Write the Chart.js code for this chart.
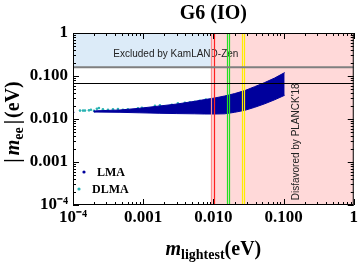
<!DOCTYPE html>
<html><head><meta charset="utf-8">
<script src="https://cdn.jsdelivr.net/npm/chart.js@4.4.1/dist/chart.umd.min.js"></script>
<style>html,body{margin:0;padding:0;background:#fff}canvas{display:block}</style>
</head><body>
<canvas id="c" width="360" height="263"></canvas>
<script>
// ---- data ----
const xTickValues = [1e-4, 1e-3, 1e-2, 1e-1, 1];
const xTickLabels = ['10\u207B\u2074', '0.001', '0.010', '0.100', '1'];
const yTickValues = [1e-4, 1e-3, 1e-2, 1e-1, 1];
const yTickLabels = ['10\u207B\u2074', '0.001', '0.010', '0.100', '1'];

const bandMass = [2.12e-4, 4.67e-4, 8.98e-4, 1.73e-3, 3.02e-3, 5.43e-3, 7.55e-3, 0.01047, 0.01453, 0.0201, 0.0280, 0.0388, 0.0538, 0.0747, 0.1037];
const lmaUpper = [0.0155, 0.0162, 0.0178, 0.0201, 0.0223, 0.0258, 0.0283, 0.0308, 0.0343, 0.0390, 0.0457, 0.0566, 0.0703, 0.0898, 0.120];
const lmaLower = [0.0145, 0.0143, 0.01393, 0.01358, 0.01336, 0.0132, 0.01306, 0.01306, 0.0132, 0.01432, 0.0159, 0.0187, 0.02256, 0.0280, 0.0356];

const lmaDotMass = [1.0e-4, 2.05e-4];
const lmaDotMee = [0.0143, 0.0150];

const dlmaMass = [1.26e-4, 1.39e-4, 1.48e-4, 1.69e-4, 1.80e-4, 1.99e-4, 2.19e-4, 2.34e-4, 2.67e-4, 3.15e-4, 3.71e-4, 4.37e-4, 5.14e-4, 6.05e-4, 8.41e-4, 9.58e-4, 1.06e-3, 1.47e-3, 1.73e-3, 2.56e-3, 3.12e-3, 3.92e-3, 4.61e-3, 5.43e-3, 6.41e-3, 7.80e-3];
const dlmaMee = [0.01567, 0.01567, 0.01567, 0.0159, 0.01637, 0.01552, 0.01726, 0.01803, 0.01682, 0.01637, 0.01682, 0.0170, 0.01637, 0.01682, 0.01774, 0.0182, 0.01726, 0.0203, 0.0208, 0.0214, 0.0232, 0.0238, 0.0245, 0.0251, 0.0265, 0.0283];

const kamlandLimit = 0.159;
const refLimit = 0.0703;
const planckStart = 0.00921;
const verticalLines = [0.00921, 0.01027, 0.0154, 0.01645, 0.02547, 0.02745];
const legendLabels = ['LMA', 'DLMA'];
const kamlandText = 'Excluded by KamLAND-Zen';
const planckText = "Disfavored by PLANCK'18";
const titleText = 'G6 (IO)';

// ---- styles ----
const LMA_COLOR = '#00009c';
const DLMA_COLOR = '#2bb3b3';
const vlineColors = ['#ff8c8c', '#ff2020', '#22e022', '#22e022', '#ffee00', '#ffee00'];
const SERIF = '"Liberation Serif", "Times New Roman", serif';
const SANS = '"Liberation Sans", Arial, sans-serif';

const toPts = (xs, ys) => xs.map((v, i) => ({x: v, y: ys[i]}));

const deco = {
  id: 'deco',
  beforeDatasetsDraw(chart) {
    const {ctx, chartArea: a, scales: {x, y}} = chart;
    ctx.save();
    ctx.beginPath(); ctx.rect(a.left, a.top, a.right - a.left, a.bottom - a.top); ctx.clip();
    const px = x.getPixelForValue(planckStart);
    const ky = y.getPixelForValue(kamlandLimit);
    ctx.fillStyle = '#dcebf8';
    ctx.fillRect(a.left, a.top, px - a.left, ky - a.top);
    ctx.fillStyle = '#ffd9d9';
    ctx.fillRect(px, a.top, a.right - px, a.bottom - a.top);
    ctx.fillStyle = '#222';
    ctx.font = '10px ' + SANS;
    ctx.textAlign = 'center'; ctx.textBaseline = 'middle';
    ctx.fillText(kamlandText, x.getPixelForValue(2.92e-3), y.getPixelForValue(0.32));
    ctx.save();
    ctx.translate(x.getPixelForValue(0.150), y.getPixelForValue(0.00295));
    ctx.rotate(-Math.PI / 2);
    ctx.fillText(planckText, 0, 0);
    ctx.restore();
    ctx.restore();
  },
  afterDatasetsDraw(chart) {
    const {ctx, chartArea: a, scales: {x, y}} = chart;
    ctx.save();
    ctx.beginPath(); ctx.rect(a.left, a.top, a.right - a.left, a.bottom - a.top); ctx.clip();
    verticalLines.forEach((v, i) => {
      const p = Math.round(x.getPixelForValue(v)) + 0.5;
      ctx.strokeStyle = vlineColors[i]; ctx.lineWidth = 1.2;
      ctx.beginPath(); ctx.moveTo(p, a.top); ctx.lineTo(p, a.bottom); ctx.stroke();
    });
    let gy = y.getPixelForValue(kamlandLimit);
    ctx.strokeStyle = '#7f7f7f'; ctx.lineWidth = 2;
    ctx.beginPath(); ctx.moveTo(a.left, gy); ctx.lineTo(a.right, gy); ctx.stroke();
    let by = Math.round(y.getPixelForValue(refLimit)) + 0.5;
    ctx.strokeStyle = '#000'; ctx.lineWidth = 1;
    ctx.beginPath(); ctx.moveTo(a.left, by); ctx.lineTo(a.right, by); ctx.stroke();
    ctx.restore();
  },
  afterDraw(chart) {
    const {ctx, chartArea: a, scales: {x, y}} = chart;
    ctx.save();
    ctx.strokeStyle = '#000'; ctx.lineWidth = 1;
    ctx.strokeRect(a.left + 0.5, a.top + 0.5, a.right - a.left - 1, a.bottom - a.top - 1);
    const majL = 6, minL = 3;
    for (let e = -4; e <= 0; e++) {
      for (let k = 1; k <= 9; k++) {
        const v = k * Math.pow(10, e);
        if (v > 1.0001) break;
        const L = k === 1 ? majL : minL;
        const px = Math.round(x.getPixelForValue(v)) + 0.5;
        const py = Math.round(y.getPixelForValue(v)) + 0.5;
        ctx.beginPath();
        ctx.moveTo(px, a.bottom); ctx.lineTo(px, a.bottom - L);
        ctx.moveTo(px, a.top); ctx.lineTo(px, a.top + L);
        ctx.moveTo(a.left, py); ctx.lineTo(a.left + L, py);
        ctx.moveTo(a.right, py); ctx.lineTo(a.right - L, py);
        ctx.stroke();
      }
    }
    ctx.fillStyle = '#000';
    ctx.font = 'bold 20px ' + SERIF;
    ctx.textAlign = 'center'; ctx.textBaseline = 'middle';
    ctx.fillText(titleText, (a.left + a.right) / 2, 14);
    const drawPieces = (pieces, cx, baseY) => {
      let total = 0;
      pieces.forEach(p => { ctx.font = p.f; p.w = ctx.measureText(p.t).width + (p.gap || 0); total += p.w; });
      let cur = cx - total / 2;
      ctx.textAlign = 'left'; ctx.textBaseline = 'alphabetic';
      pieces.forEach(p => { ctx.font = p.f; ctx.fillText(p.t, cur, baseY + (p.dy || 0)); cur += p.w; });
    };
    const big = 'bold 20px ' + SERIF, bigI = 'italic bold 20px ' + SERIF, sub = 'bold 14px ' + SERIF;
    drawPieces([
      {t: 'm', f: bigI},
      {t: 'lightest', f: sub, dy: 4},
      {t: '(eV)', f: big}
    ], (a.left + a.right) / 2, 255);
    ctx.save();
    ctx.translate(19, (a.top + a.bottom) / 2 + 3);
    ctx.rotate(-Math.PI / 2);
    drawPieces([
      {t: '|', f: big, gap: 3},
      {t: 'm', f: bigI},
      {t: 'ee', f: sub, dy: 4, gap: 3},
      {t: '|', f: big, gap: 2},
      {t: '(eV)', f: big}
    ], 0, 0);
    ctx.restore();
    const lx = [84, 79], ly = [172, 189], tx = [97, 92];
    const cols = [LMA_COLOR, DLMA_COLOR];
    ctx.font = 'bold 12px ' + SERIF; ctx.textAlign = 'left'; ctx.textBaseline = 'middle';
    legendLabels.forEach((lab, i) => {
      ctx.fillStyle = cols[i];
      ctx.beginPath(); ctx.arc(lx[i], ly[i], 1.6, 0, Math.PI * 2); ctx.fill();
      ctx.fillStyle = '#000';
      ctx.fillText(lab, tx[i], ly[i] + 1);
    });
    ctx.restore();
  }
};

new Chart(document.getElementById('c'), {
  type: 'scatter',
  data: {
    datasets: [
      {label: 'LMA upper', data: toPts(bandMass, lmaUpper), showLine: true, pointRadius: 0, borderColor: LMA_COLOR, backgroundColor: LMA_COLOR, borderWidth: 1, fill: '+1', tension: 0},
      {label: 'LMA lower', data: toPts(bandMass, lmaLower), showLine: true, pointRadius: 0, borderColor: LMA_COLOR, borderWidth: 1, fill: false, tension: 0},
      {label: 'LMA', data: toPts(lmaDotMass, lmaDotMee), pointRadius: 1.3, pointBorderWidth: 0, backgroundColor: LMA_COLOR},
      {label: 'DLMA', data: toPts(dlmaMass, dlmaMee), pointRadius: 1.3, pointBorderWidth: 0, backgroundColor: DLMA_COLOR}
    ]
  },
  options: {
    responsive: false,
    animation: false,
    devicePixelRatio: 1,
    layout: {padding: {top: 33, right: 6, left: 0, bottom: 0}},
    plugins: {legend: {display: false}, tooltip: {enabled: false}, title: {display: false}},
    scales: {
      x: {
        type: 'logarithmic', min: 1e-4, max: 1,
        grid: {display: false, drawTicks: false}, border: {display: false},
        afterBuildTicks: s => { s.ticks = xTickValues.map(v => ({value: v})); },
        afterFit: s => { s.height = 58; },
        ticks: {autoSkip: false, maxRotation: 0, padding: 2, color: '#000', font: {family: SERIF, size: 17, weight: 'bold'},
          callback: (v, i) => xTickLabels[i]}
      },
      y: {
        type: 'logarithmic', min: 1e-4, max: 1,
        grid: {display: false, drawTicks: false}, border: {display: false},
        afterBuildTicks: s => { s.ticks = yTickValues.map(v => ({value: v})); },
        afterFit: s => { s.width = 73; },
        ticks: {autoSkip: false, padding: 5, color: '#000', font: {family: SERIF, size: 17, weight: 'bold'},
          callback: (v, i) => yTickLabels[i]}
      }
    }
  },
  plugins: [deco]
});
</script>
</body></html>
